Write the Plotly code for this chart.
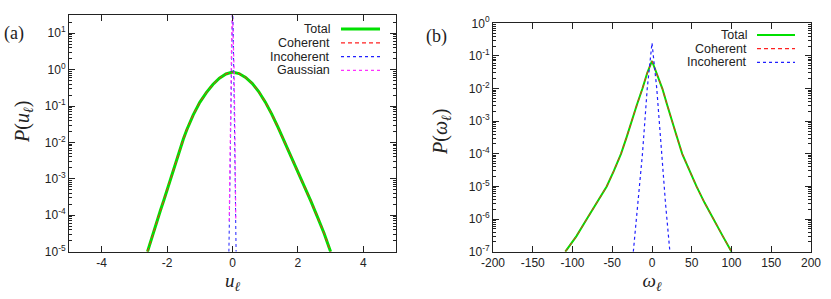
import plotly.graph_objects as go

# ---------------- Data: panel (a) ----------------
u_total = [-2.6, -2.5, -2.4, -2.3, -2.2, -2.1, -2.0, -1.9, -1.8, -1.7, -1.6, -1.5, -1.4, -1.2, -1.0, -0.8,
           -0.6, -0.4, -0.2, 0.0, 0.2, 0.4, 0.6, 0.8, 1.0, 1.2, 1.4, 1.6, 1.8, 2.0, 2.2, 2.4, 2.6, 2.8, 3.0]
p_total_u = [1.0e-5, 2.0e-5, 4.0e-5, 7.5e-5, 1.4e-4, 2.6e-4, 5.0e-4, 1.0e-3, 2.0e-3, 3.8e-3, 7.1e-3, 1.26e-2,
             2.2e-2, 5.75e-2, 1.26e-1, 2.34e-1, 3.9e-1, 5.8e-1, 7.6e-1, 0.86, 7.8e-1, 6.1e-1, 4.2e-1,
             2.5e-1, 1.3e-1, 6.0e-2, 2.5e-2, 1.0e-2, 4.0e-3, 1.6e-3, 6.3e-4, 2.4e-4, 8.9e-5, 3.2e-5, 1.0e-5]
p_coh_u = [1.0e-5, 2.0e-5, 4.0e-5, 7.5e-5, 1.4e-4, 2.6e-4, 5.0e-4, 1.0e-3, 2.0e-3, 3.8e-3, 7.1e-3, 1.26e-2,
           2.2e-2, 5.75e-2, 1.26e-1, 2.34e-1, 3.9e-1, 5.8e-1, 7.6e-1, 0.86, 7.8e-1, 6.1e-1, 4.2e-1,
           2.5e-1, 1.3e-1, 6.0e-2, 2.5e-2, 1.0e-2, 4.0e-3, 1.6e-3, 6.3e-4, 2.4e-4, 8.9e-5, 3.2e-5, 1.0e-5]
u_incoh = [-0.11, -0.08, -0.05, -0.02, 0.0, 0.02, 0.05, 0.08, 0.11]
p_incoh_u = [1.0e-5, 1.0e-3, 3.0e-1, 1.5e1, 6.0e1, 1.5e1, 3.0e-1, 1.0e-3, 1.0e-5]
u_gauss = [-0.1, -0.075, -0.05, -0.025, 0.0, 0.025, 0.05, 0.075, 0.1]
p_gauss_u = [7.0e-5, 1.8e-2, 9.0e-1, 9.0, 4.0e1, 9.0, 9.0e-1, 1.8e-2, 7.0e-5]

# ---------------- Data: panel (b) ----------------
w_total = [-109, -95, -82, -70, -57, -48, -39, -32, -26, -19, -12, -6, 0, 6, 13, 19, 25, 31, 38, 46, 56, 66, 77, 89, 100]
p_total_w = [1e-7, 3e-7, 1e-6, 3e-6, 1e-5, 3e-5, 1e-4, 3.2e-4, 1e-3, 3.2e-3, 1e-2, 3e-2, 7e-2,
             3e-2, 1e-2, 3.2e-3, 1e-3, 3.5e-4, 1e-4, 3.5e-5, 1e-5, 3.2e-6, 1e-6, 3e-7, 1e-7]
p_coh_w = [1e-7, 3e-7, 1e-6, 3e-6, 1e-5, 3e-5, 1e-4, 3.2e-4, 1e-3, 3.2e-3, 1e-2, 3e-2, 7e-2,
           3e-2, 1e-2, 3.2e-3, 1e-3, 3.5e-4, 1e-4, 3.5e-5, 1e-5, 3.2e-6, 1e-6, 3e-7, 1e-7]
w_incoh = [-23.5, -18, -12, -6, 0, 6, 12, 17, 22.5]
p_incoh_w = [1e-7, 3e-6, 1e-4, 1e-2, 2.5e-1, 1e-2, 1e-4, 3e-6, 1e-7]

# ---------------- Tick labels ----------------
u_ticks = [-4, -2, 0, 2, 4]
w_ticks = [-200, -150, -100, -50, 0, 50, 100, 150, 200]
y_exp_a = [-5, -4, -3, -2, -1, 0, 1]
y_exp_b = [-7, -6, -5, -4, -3, -2, -1, 0]

GREEN = "#00e000"
RED = "#ff2020"
BLUE = "#2020ff"
MAG = "#ff30ff"
W, H = 831, 299


def minor_vals(exps):
    return [k * 10.0 ** e for e in exps for k in range(2, 10)]


fig = go.Figure()
# panel a
fig.add_trace(go.Scatter(x=u_total, y=p_total_u, mode="lines", line=dict(color=GREEN, width=3), xaxis="x", yaxis="y"))
fig.add_trace(go.Scatter(x=u_total, y=p_coh_u, mode="lines", line=dict(color=RED, width=1, dash="4px,3px"), xaxis="x", yaxis="y"))
fig.add_trace(go.Scatter(x=u_incoh, y=p_incoh_u, mode="lines", line=dict(color=BLUE, width=1, dash="3px,3px"), xaxis="x", yaxis="y"))
fig.add_trace(go.Scatter(x=u_gauss, y=p_gauss_u, mode="lines", line=dict(color=MAG, width=1.2, dash="dot"), xaxis="x", yaxis="y"))
# panel b
fig.add_trace(go.Scatter(x=w_total, y=p_total_w, mode="lines", line=dict(color=GREEN, width=2), xaxis="x2", yaxis="y2"))
fig.add_trace(go.Scatter(x=w_total, y=p_coh_w, mode="lines", line=dict(color=RED, width=1, dash="4px,3px"), xaxis="x2", yaxis="y2"))
fig.add_trace(go.Scatter(x=w_incoh, y=p_incoh_w, mode="lines", line=dict(color=BLUE, width=1.2, dash="dot"), xaxis="x2", yaxis="y2"))

tickfont = dict(family="Liberation Sans, Arial", size=12, color="#222")
common_x = dict(showgrid=False, zeroline=False, showline=True, linecolor="#222", linewidth=1, mirror="ticks",
                ticks="inside", ticklen=6, tickcolor="#222", tickfont=tickfont, automargin=False)
common_y = dict(type="log", showgrid=False, zeroline=False, showline=True, linecolor="#222", linewidth=1,
                mirror="ticks", ticks="inside", ticklen=6, tickcolor="#222", tickfont=tickfont, automargin=False)

xa_dom = [69 / W, 396 / W]
xb_dom = [493 / W, 811 / W]
ya_dom = [1 - 251.7 / H, 1 - 15 / H]
yb_dom = [1 - 251.7 / H, 1 - 23.3 / H]

titlefont = dict(family="Liberation Serif, DejaVu Serif", size=19, color="#222")
ytitlefont = dict(family="Liberation Serif, DejaVu Serif", size=20, color="#222")

fig.update_layout(
    width=W, height=H, margin=dict(l=0, r=0, t=0, b=0),
    paper_bgcolor="white", plot_bgcolor="white", showlegend=False,
    xaxis=dict(common_x, domain=xa_dom, range=[-5, 5], tickvals=u_ticks, ticktext=[str(v) for v in u_ticks],
               anchor="y", title=dict(text="<i>u</i><sub><i>ℓ</i></sub>", font=titlefont, standoff=4)),
    yaxis=dict(common_y, domain=ya_dom, range=[-5, 1.5], anchor="x",
               tickvals=[10 ** e for e in y_exp_a], ticktext=["10<sup>%d</sup>" % e for e in y_exp_a],
               minor=dict(tickmode="array", tickvals=minor_vals(y_exp_a), ticks="inside", ticklen=3,
                          tickcolor="#222", showgrid=False)),
    xaxis2=dict(common_x, domain=xb_dom, range=[-200, 200], tickvals=w_ticks, ticktext=[str(v) for v in w_ticks],
                anchor="y2", title=dict(text="<i>ω</i><sub><i>ℓ</i></sub>", font=titlefont, standoff=4)),
    yaxis2=dict(common_y, domain=yb_dom, range=[-7, 0], anchor="x2",
                tickvals=[10 ** e for e in y_exp_b], ticktext=["10<sup>%d</sup>" % e for e in y_exp_b],
                minor=dict(tickmode="array", tickvals=minor_vals(y_exp_b), ticks="inside", ticklen=3,
                           tickcolor="#222", showgrid=False)),
)

# y-axis titles (placed like the original, slightly above the axis centre)
fig.add_annotation(text="<i>P</i>(<i>u</i><sub><i>ℓ</i></sub>)", x=24 / W, y=1 - 122 / H, xref="paper", yref="paper",
                   xanchor="center", yanchor="middle", textangle=-90, showarrow=False, font=ytitlefont)
fig.add_annotation(text="<i>P</i>(<i>ω</i><sub><i>ℓ</i></sub>)", x=442 / W, y=1 - 132 / H, xref="paper", yref="paper",
                   xanchor="center", yanchor="middle", textangle=-90, showarrow=False, font=ytitlefont)

# panel labels
fig.add_annotation(text="(a)", x=2 / W, y=1 - 33 / H, xref="paper", yref="paper", xanchor="left", yanchor="middle",
                   showarrow=False, font=dict(family="Liberation Serif, DejaVu Serif", size=18, color="#222"))
fig.add_annotation(text="(b)", x=424 / W, y=1 - 36 / H, xref="paper", yref="paper", xanchor="left", yanchor="middle",
                   showarrow=False, font=dict(family="Liberation Serif, DejaVu Serif", size=18, color="#222"))

# gnuplot-style keys (text right-aligned, sample line to the right)
legfont = dict(family="Liberation Sans, Arial", size=12.5, color="#222")
key_a = [("Total", GREEN, 3, "solid"), ("Coherent", RED, 1.2, "4px,3px"), ("Incoherent", BLUE, 1.2, "3px,3px"),
         ("Gaussian", MAG, 1.4, "dot")]
for i, (name, col, wd, ds) in enumerate(key_a):
    yy = 1 - (29 + i * 13.8) / H
    fig.add_annotation(text=name, x=332 / W, y=yy, xref="paper", yref="paper", xanchor="right", yanchor="middle",
                       showarrow=False, font=legfont)
    fig.add_shape(type="line", x0=341 / W, x1=380 / W, y0=yy, y1=yy, xref="paper", yref="paper",
                  line=dict(color=col, width=wd, dash=ds))
key_b = [("Total", GREEN, 2, "solid"), ("Coherent", RED, 1.2, "4px,3px"), ("Incoherent", BLUE, 1.4, "dot")]
for i, (name, col, wd, ds) in enumerate(key_b):
    yy = 1 - (35 + i * 13.7) / H
    fig.add_annotation(text=name, x=749 / W, y=yy, xref="paper", yref="paper", xanchor="right", yanchor="middle",
                       showarrow=False, font=legfont)
    fig.add_shape(type="line", x0=757 / W, x1=795 / W, y0=yy, y1=yy, xref="paper", yref="paper",
                  line=dict(color=col, width=wd, dash=ds))

fig.write_html("out.html", config={"displayModeBar": False},
               post_script="document.body.style.margin='0';document.body.style.overflow='hidden';")
